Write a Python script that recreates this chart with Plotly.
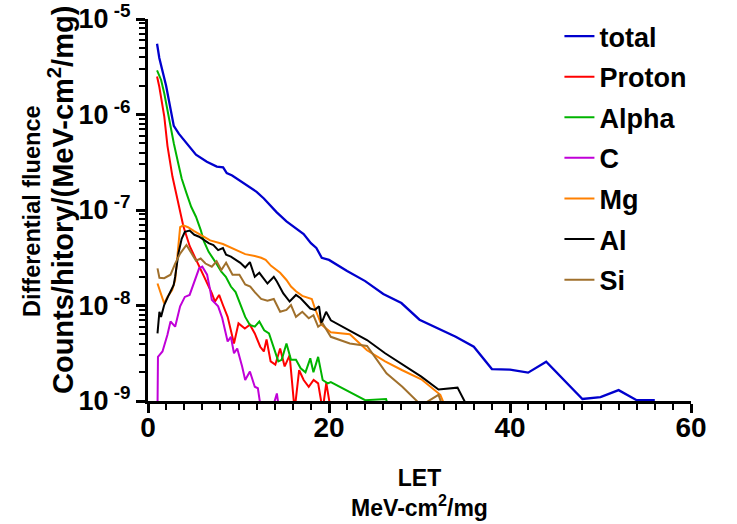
import plotly.graph_objects as go

# ---- data (LET in MeV-cm2/mg, differential fluence) ----
let_total = [1.0, 1.25, 2.0, 2.5, 2.85, 3.4, 4.3, 5.3, 6.5, 7.6, 8.3, 8.7, 9.3, 10.1, 11.1, 12.0, 12.8, 13.5, 14.2, 15.3,
             16.4, 17.2, 18.0, 18.6, 19.2, 20.0, 22.0, 24.0, 26.0, 28.0, 30.0, 32.0, 34.0, 36.0, 38.0, 40.0, 42.0, 44.0,
             46.0, 48.0, 50.0, 52.0, 54.0, 56.0]
total = [5.5e-6, 3.9e-6, 2.0e-6, 1.15e-6, 7.6e-7, 6.3e-7, 4.9e-7, 3.8e-7, 3.2e-7, 2.85e-7, 2.8e-7, 2.43e-7, 2.3e-7,
         2.04e-7, 1.78e-7, 1.55e-7, 1.32e-7, 1.12e-7, 9.5e-8, 7.6e-8, 6.3e-8, 5.6e-8, 4.5e-8, 4.0e-8, 3.16e-8, 3.0e-8,
         2.3e-8, 1.8e-8, 1.32e-8, 1.06e-8, 7.1e-9, 5.8e-9, 4.7e-9, 3.7e-9, 2.16e-9, 2.13e-9, 1.98e-9, 2.58e-9, 1.63e-9,
         1.05e-9, 1.10e-9, 1.30e-9, 1.02e-9, 1.02e-9]

let_proton = [1.0, 1.25, 1.8, 2.15, 2.7, 3.4, 3.9, 4.6, 5.5, 6.35, 7.05, 7.4, 7.86, 8.3, 8.8, 9.5, 10.0, 10.7, 11.26,
              11.8, 12.4, 12.8, 13.1, 13.55, 14.07, 14.6, 15.1, 15.65, 16.2, 16.7, 17.2, 17.76, 18.3, 18.8, 19.3, 19.7,
              20.2]
proton = [2.5e-6, 1.95e-6, 9.5e-7, 4.7e-7, 2.24e-7, 1.1e-7, 6.8e-8, 4.2e-8, 2.75e-8, 1.9e-8, 1.35e-8, 1.1e-8, 1.29e-8,
          1.0e-8, 7.6e-9, 4.0e-9, 6.5e-9, 5.75e-9, 6.3e-9, 5.1e-9, 3.7e-9, 3.3e-9, 4.4e-9, 2.6e-9, 2.4e-9, 3.55e-9,
          2.3e-9, 3.0e-9, 8e-10, 2.1e-9, 1.66e-9, 1.41e-9, 1.66e-9, 1.53e-9, 8e-10, 1.55e-9, 8e-10]

let_alpha = [1.0, 1.45, 1.8, 2.3, 2.85, 3.37, 3.72, 4.25, 4.77, 5.3, 5.82, 6.18, 6.7, 7.4, 8.1, 8.6, 9.16, 9.68, 10.2,
             10.74, 11.26, 11.8, 12.3, 12.84, 13.37, 13.9, 14.4, 14.77, 15.3, 15.8, 16.35, 16.87, 17.4, 17.93, 18.28,
             18.8, 19.3, 19.86, 20.2, 24.0, 26.3, 26.7]
alpha = [2.9e-6, 2.3e-6, 1.66e-6, 9.1e-7, 5.0e-7, 3.0e-7, 2.14e-7, 1.5e-7, 1.08e-7, 8.5e-8, 6.2e-8, 4.7e-8, 3.65e-8,
         2.9e-8, 2.26e-8, 2.0e-8, 1.58e-8, 1.38e-8, 1.05e-8, 7.6e-9, 6.25e-9, 6.0e-9, 6.8e-9, 5.5e-9, 5.1e-9, 3.7e-9,
         2.6e-9, 2.7e-9, 4.0e-9, 2.7e-9, 2.7e-9, 2.2e-9, 2.0e-9, 2.8e-9, 2.0e-9, 2.9e-9, 1.66e-9, 1.53e-9, 1.58e-9,
         1.02e-9, 1.05e-9, 8e-10]

let_c = [1.05, 1.1, 1.6, 2.14, 2.49, 3.0, 3.55, 4.07, 4.6, 5.1, 5.65, 6.0, 6.53, 6.87, 7.05, 7.75, 8.2, 8.8, 9.16, 9.5,
         9.86, 10.4, 10.74, 11.26, 11.8, 12.14, 12.5, 13.7, 14.24, 14.5]
c_ion = [8e-10, 2.9e-9, 3.3e-9, 4.9e-9, 6.8e-9, 6.0e-9, 9.8e-9, 1.23e-8, 1.29e-8, 1.78e-8, 2.45e-8, 2.55e-8, 2.1e-8,
         1.45e-8, 1.15e-8, 9.8e-9, 7.4e-9, 4.2e-9, 4.7e-9, 3.16e-9, 3.55e-9, 2.3e-9, 1.66e-9, 2.04e-9, 1.41e-9,
         1.36e-9, 8e-10, 8e-10, 1.2e-9, 8e-10]

let_mg = [1.05, 1.44, 1.79, 2.14, 2.67, 3.0, 3.3, 3.55, 3.9, 4.42, 5.1, 5.82, 6.87, 8.28, 9.68, 10.74, 11.8, 12.5, 13.0,
          13.6, 14.6, 15.3, 15.8, 16.35, 17.05, 18.1, 18.45, 19.16, 20.2, 22.3, 24.2, 26.2, 28.1, 30.2, 32.3, 33.0]
mg = [1.7e-8, 1.29e-8, 1.05e-8, 1.23e-8, 1.45e-8, 1.85e-8, 3.55e-8, 6.6e-8, 6.9e-8, 6.6e-8, 6.0e-8, 5.5e-8, 4.8e-8,
      4.4e-8, 3.8e-8, 3.45e-8, 3.3e-8, 3.16e-8, 3.0e-8, 2.6e-8, 2.2e-8, 1.85e-8, 1.58e-8, 1.41e-8, 1.26e-8, 1.17e-8,
      9.3e-9, 6.3e-9, 5.25e-9, 5.0e-9, 3.4e-9, 2.6e-9, 2.1e-9, 1.69e-9, 1.16e-9, 8e-10]

let_al = [1.05, 1.26, 1.44, 1.79, 2.3, 2.84, 3.0, 3.37, 3.72, 4.07, 4.6, 5.12, 5.65, 6.18, 6.7, 7.23, 7.75, 8.28, 8.63,
          9.16, 10.2, 10.74, 11.26, 11.8, 12.3, 13.2, 13.9, 14.24, 14.95, 15.65, 16.35, 16.87, 17.93, 18.45, 18.9,
          19.16, 19.68, 20.2, 22.3, 24.2, 26.2, 28.1, 30.2, 32.1, 34.2, 35.5]
al = [5.1e-9, 8.6e-9, 7.6e-9, 1.01e-8, 1.29e-8, 1.64e-8, 2.0e-8, 3.55e-8, 5.0e-8, 5.9e-8, 6.1e-8, 5.5e-8, 5.25e-8,
      4.85e-8, 4.5e-8, 4.3e-8, 3.8e-8, 4.0e-8, 3.4e-8, 3.25e-8, 2.8e-8, 2.5e-8, 2.85e-8, 2.0e-8, 2.2e-8, 1.7e-8,
      2.0e-8, 1.78e-8, 1.34e-8, 1.1e-8, 1.29e-8, 1.19e-8, 9.3e-9, 9.0e-9, 9.8e-9, 6.5e-9, 8.6e-9, 7.0e-9, 5.5e-9,
      4.35e-9, 3.16e-9, 2.44e-9, 1.8e-9, 1.32e-9, 1.38e-9, 8e-10]

let_si = [1.05, 1.26, 1.79, 2.49, 3.0, 3.55, 4.25, 4.77, 5.3, 5.82, 6.35, 7.05, 7.58, 8.1, 8.63, 9.34, 10.1, 10.74, 11.3,
          11.8, 12.5, 13.2, 13.9, 14.6, 15.3, 15.8, 16.35, 17.05, 17.76, 18.28, 18.8, 19.3, 20.2, 22.3, 24.2, 25.3,
          26.35, 28.1, 29.7, 30.2, 32.1, 32.7]
si = [2.45e-8, 1.95e-8, 1.93e-8, 2.1e-8, 2.75e-8, 3.5e-8, 4.3e-8, 3.6e-8, 2.95e-8, 3.1e-8, 2.75e-8, 2.55e-8, 2.9e-8,
      2.35e-8, 2.8e-8, 2.1e-8, 2.1e-8, 1.66e-8, 1.58e-8, 1.38e-8, 1.17e-8, 1.12e-8, 1.17e-8, 8.6e-9, 9.0e-9, 1.01e-8,
      7.6e-9, 8.6e-9, 7.35e-9, 7.9e-9, 6.0e-9, 6.5e-9, 4.7e-9, 4.0e-9, 3.77e-9, 2.7e-9, 1.95e-9, 1.41e-9, 1.02e-9,
      9e-10, 1.16e-9, 8e-10]

y_tick_vals = [1e-9, 1e-8, 1e-7, 1e-6, 1e-5]
y_tick_text = ["10<sup> -9</sup>", "10<sup> -8</sup>", "10<sup> -7</sup>", "10<sup> -6</sup>", "10<sup> -5</sup>"]
x_tick_vals = [0, 20, 40, 60]

series = [
    ("total", let_total, total, "#0000CD"),
    ("Proton", let_proton, proton, "#FF0000"),
    ("Alpha", let_alpha, alpha, "#00B400"),
    ("C", let_c, c_ion, "#C000D8"),
    ("Mg", let_mg, mg, "#FF8000"),
    ("Al", let_al, al, "#000000"),
    ("Si", let_si, si, "#A0702C"),
]

fig = go.Figure()
for name, xs, ys, col in series:
    fig.add_trace(go.Scatter(x=xs, y=ys, mode="lines", name=name, legendgroup=name,
                             line=dict(color=col, width=2.3 if name == "total" else 2.0)))

minor_y = [m * 10.0 ** e for e in range(-9, -5) for m in range(2, 10)]

fig.update_layout(
    width=737, height=524,
    margin=dict(l=148, r=46, t=19, b=123, autoexpand=False),
    paper_bgcolor="white", plot_bgcolor="white",
    font=dict(family="Arial, Liberation Sans, sans-serif", color="black"),
    legend=dict(x=0.7577, y=1.0183, xanchor="left", yanchor="top", maxheight=420,
                font=dict(size=27, weight="bold", color="black"),
                bgcolor="rgba(0,0,0,0)", tracegroupgap=2.5, itemwidth=30),
    annotations=[
        dict(text="Differential fluence", xref="paper", yref="paper", x=-0.2136, y=0.4974,
             xanchor="center", yanchor="middle", textangle=-90, showarrow=False,
             font=dict(size=23.5, weight="bold", color="black")),
        dict(text="Counts/hitory/(MeV-cm<sup>2</sup>/mg)", xref="paper", yref="paper", x=-0.1602, y=0.5262,
             xanchor="center", yanchor="middle", textangle=-90, showarrow=False,
             font=dict(size=29, weight="bold", color="black")),
    ],
)
fig.update_xaxes(
    range=[0, 60], tickmode="array", tickvals=x_tick_vals, automargin=False,
    ticks="outside", ticklen=9, tickwidth=3, tickcolor="black",
    showline=True, linewidth=3, linecolor="black",
    showgrid=False, zeroline=False, ticklabelstandoff=-10, ticklabeloverflow="allow",
    tickfont=dict(size=28, weight="bold"),
    minor=dict(dtick=2, tick0=0, ticks="outside", ticklen=6, tickwidth=2, tickcolor="black", showgrid=False),
    title=dict(text="LET<br>MeV-cm<sup>2</sup>/mg", font=dict(size=23, weight="bold"), standoff=29),
)
fig.update_yaxes(
    type="log", range=[-9, -5], tickmode="array", tickvals=y_tick_vals, ticktext=y_tick_text, automargin=False,
    ticks="outside", ticklen=9, tickwidth=3, tickcolor="black",
    showline=True, linewidth=3, linecolor="black",
    showgrid=False, zeroline=False, ticklabeloverflow="allow",
    tickfont=dict(size=27, weight="bold"),
    minor=dict(tickmode="array", tickvals=minor_y, ticks="outside", ticklen=6, tickwidth=2,
               tickcolor="black", showgrid=False),
)

fig.write_html("out.html", config={"displayModeBar": False},
               post_script="document.body.style.margin='0px';")
